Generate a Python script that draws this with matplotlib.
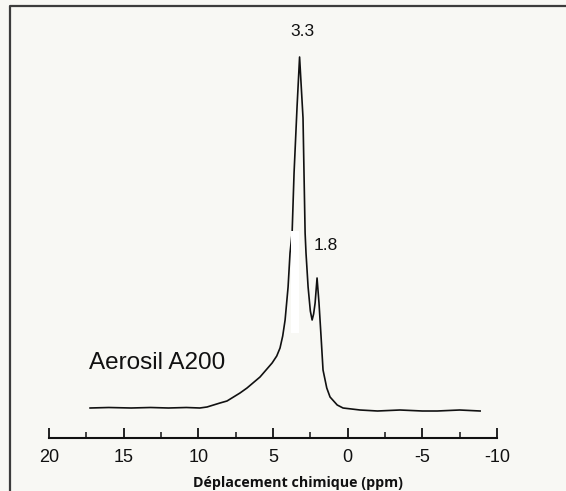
import matplotlib
matplotlib.use("Agg")
import matplotlib.pyplot as plt
from matplotlib.lines import Line2D
from matplotlib.patches import Rectangle

plt.rcParams["axes.unicode_minus"] = False

# chemical shift (ppm) and intensity (arbitrary units)
shift_ppm = [17.25, 16.0, 14.5, 13.2, 12.0, 10.8, 9.9, 9.42, 8.55, 8.08, 7.21, 6.74,
             5.87, 5.06, 4.75, 4.53, 4.35, 4.19, 3.99, 3.86, 3.72, 3.59, 3.39, 3.22, 2.99,
             2.92, 2.85, 2.79, 2.65, 2.50, 2.38, 2.28, 2.18, 2.05, 1.92, 1.78, 1.65,
             1.40, 1.18, 0.70, 0.31, -0.83, -2.0, -3.5, -5.0, -6.0, -7.5, -8.87]
intensity = [0, 0.5, 0, 0.5, 0, 0.5, 0, 1, 5, 7, 15, 20,
             31, 45, 52, 60, 72, 88, 121, 155, 175, 235, 301, 351, 290,
             232, 175, 155, 121, 97, 88, 94, 105, 130, 105, 71, 38,
             20, 11, 3, 0, -2, -3, -2, -3, -3, -2, -3]

major_ticks = [20, 15, 10, 5, 0, -5, -10]
minor_ticks = [17.5, 12.5, 7.5, 2.5, -2.5, -7.5]
x_label = "Déplacement chimique (ppm)"
sample_label = "Aerosil A200"
peak_labels = ["3.3", "1.8"]

bg = "#f8f8f4"
W, H = 566, 491
fig = plt.figure(figsize=(W / 100, H / 100), dpi=100, facecolor=bg)
ax = fig.add_axes([49 / W, 1 - 438 / H, (497 - 49) / W, (438 - 20) / H])
ax.set_facecolor(bg)
ax.patch.set_alpha(0)

ax.plot(shift_ppm, intensity, color="#111111", lw=1.2, zorder=3)

ax.set_xlim(20, -10)
ax.set_ylim(-30, 388)
for s in ["top", "left", "right"]:
    ax.spines[s].set_visible(False)
ax.spines["bottom"].set_linewidth(1.5)
ax.spines["bottom"].set_color("#111111")
ax.set_yticks([])
ax.set_xticks(major_ticks)
ax.set_xticks(minor_ticks, minor=True)
ax.tick_params(axis="x", which="major", direction="in", length=7.5, width=1.3,
               pad=8, labelsize=13, colors="#111111",
               labelfontfamily="Liberation Sans")
ax.tick_params(axis="x", which="minor", direction="in", length=4, width=1.1,
               colors="#111111")

ax.set_xlabel(x_label, family="Open Sans", fontweight="bold", fontsize=10.3,
              labelpad=7, color="#111111", x=(298 - 49) / 448)

# annotations
ax.text(3.0, 376, peak_labels[0], ha="center", va="center", fontsize=12.5,
        family="Liberation Sans", color="#111111")
ax.text(1.45, 162, peak_labels[1], ha="center", va="center", fontsize=12.5,
        family="Liberation Sans", color="#111111")
ax.text(17.3, 45, sample_label, ha="left", va="center", fontsize=17.5,
        family="Liberation Sans", color="#111111")

# white scan artefact and frame
fig.add_artist(Rectangle((291 / W, 1 - 333 / H), 8 / W, 102 / H,
                         transform=fig.transFigure, facecolor="white",
                         edgecolor="none", zorder=2))
fig.add_artist(Line2D([10 / W, 10 / W, 1], [0, 1 - 6 / H, 1 - 6 / H],
                      transform=fig.transFigure, color="#3c3c3c", lw=1.6))

fig.savefig("out.png", dpi=100, facecolor=bg)
